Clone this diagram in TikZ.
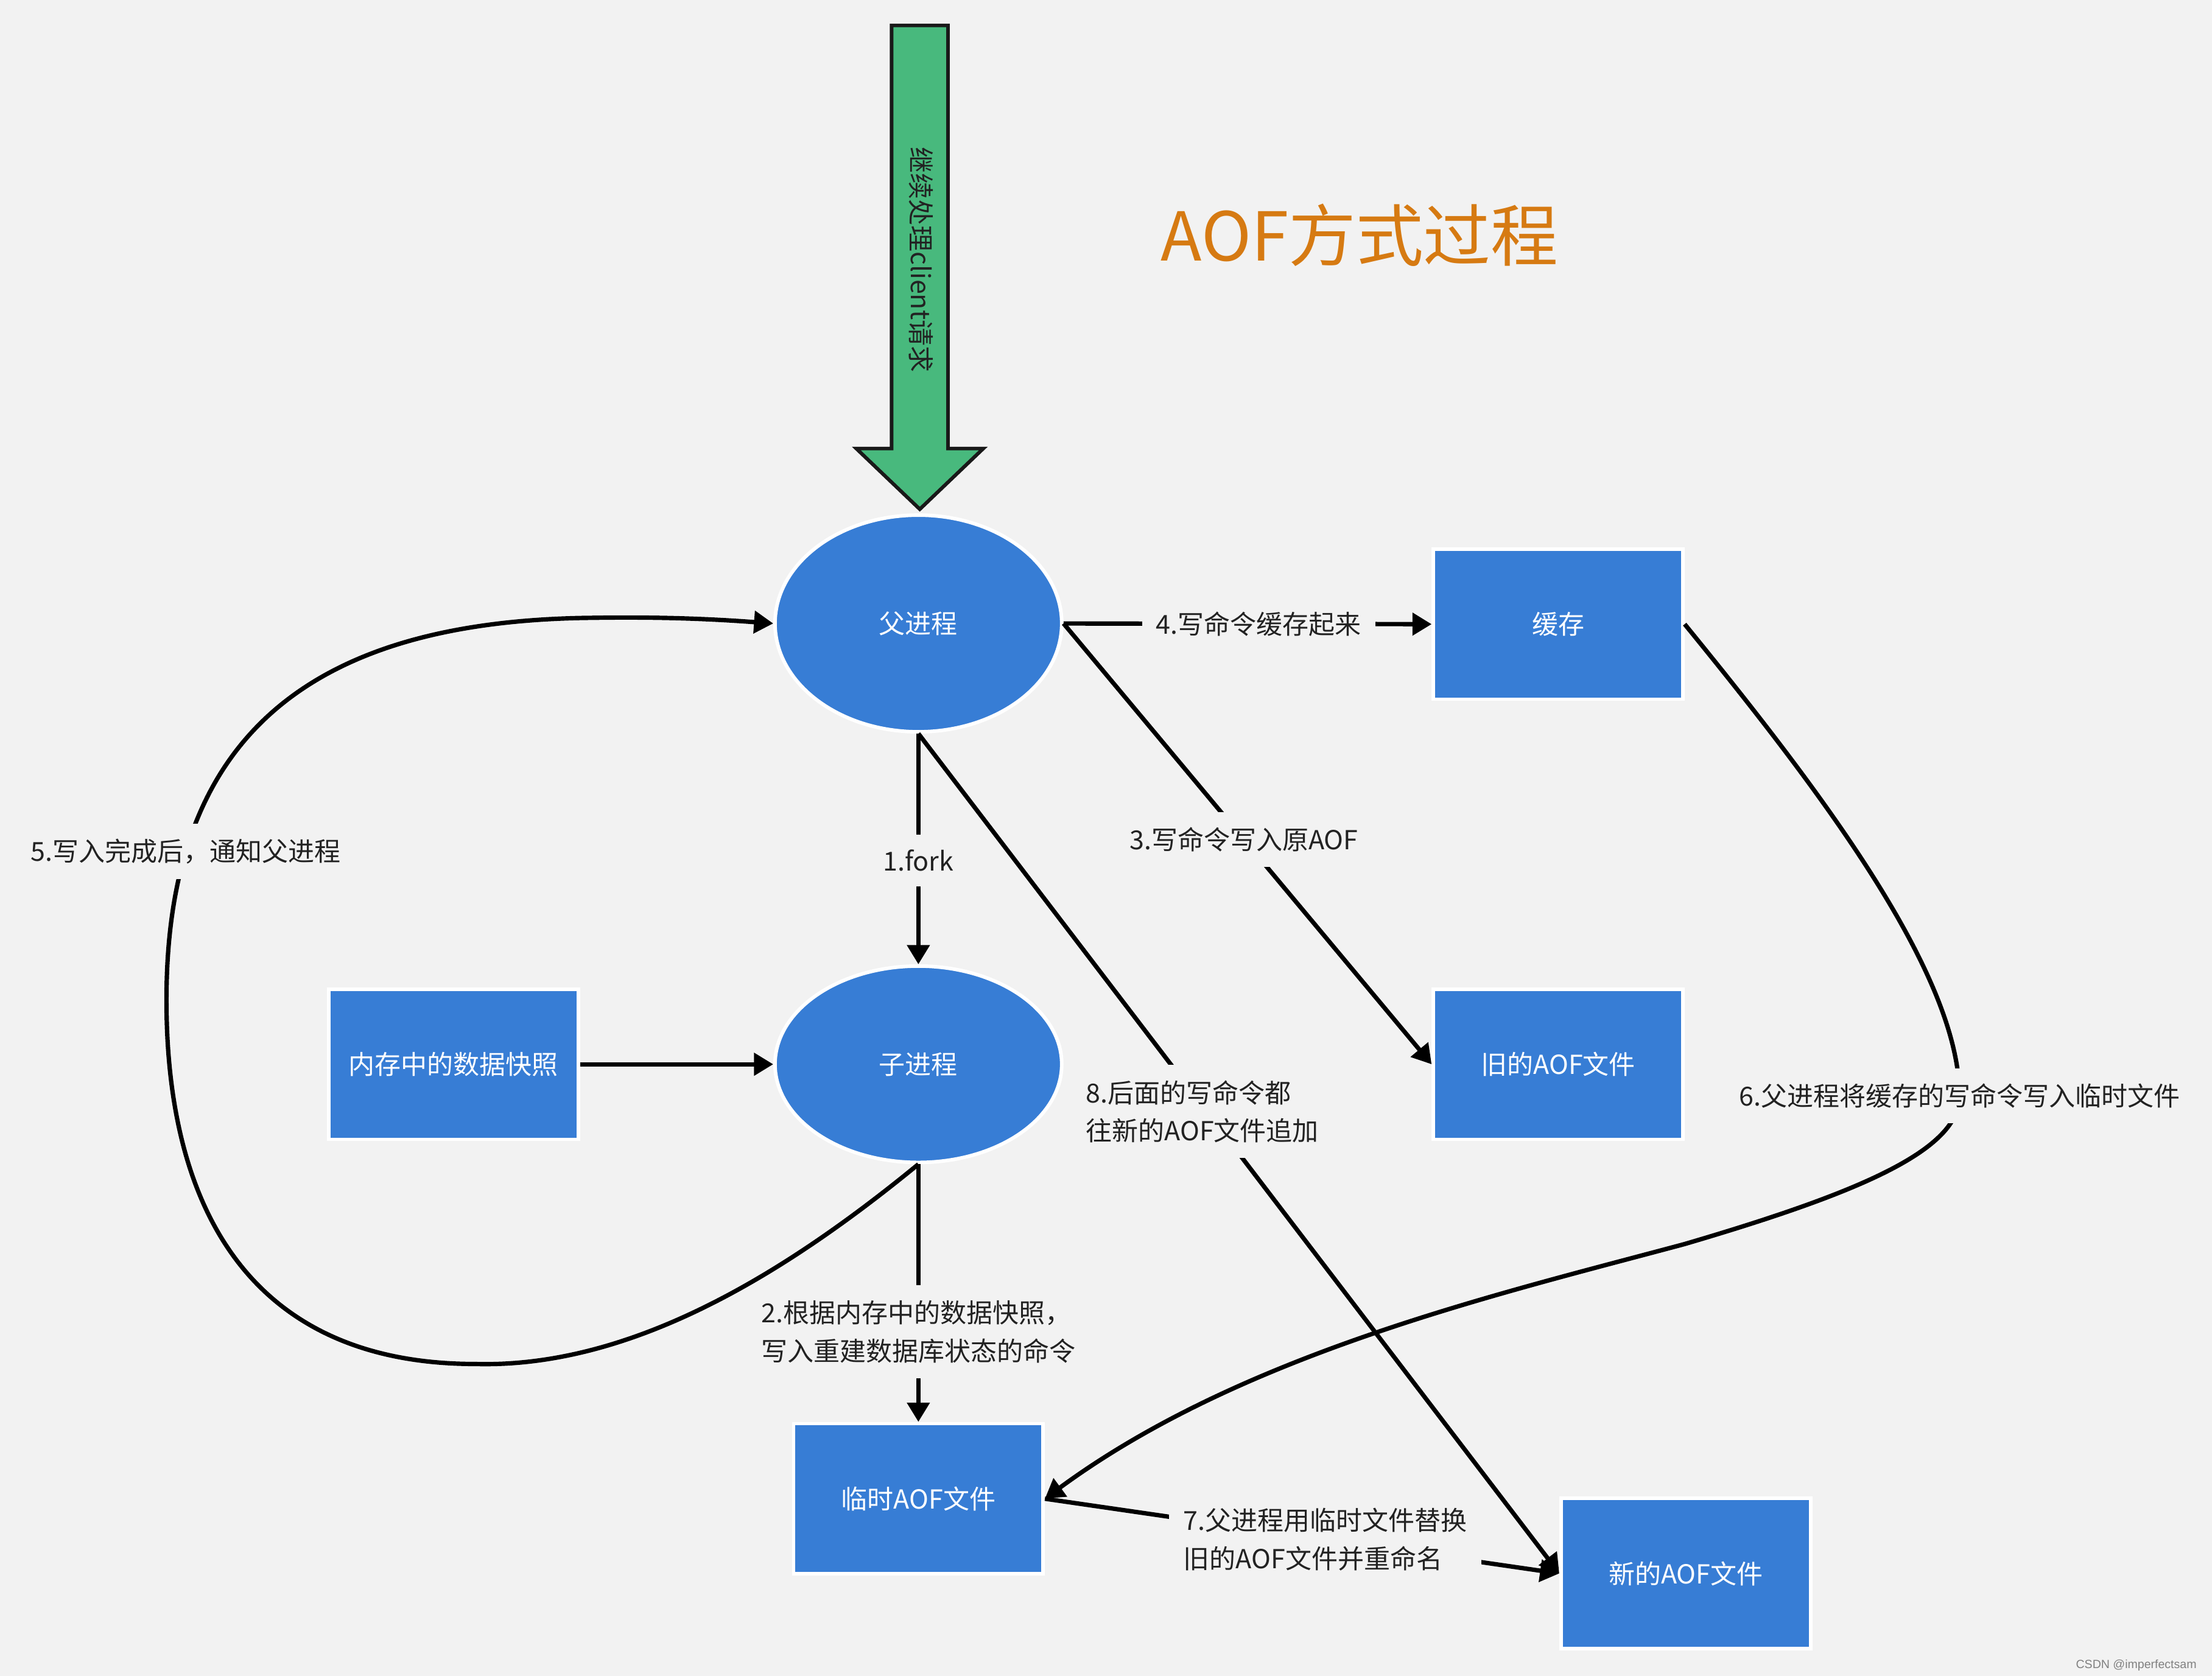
\documentclass[tikz,border=0pt]{standalone}
\usepackage{fontspec}
\setmainfont{Noto Sans CJK SC}
\newfontfamily\markfont{Liberation Sans}
\usetikzlibrary{arrows.meta,shapes.geometric}
\definecolor{bgGray}{RGB}{242,242,242}
\definecolor{procBlue}{RGB}{55,125,213}
\definecolor{titleOrange}{RGB}{214,122,18}
\definecolor{pipeGreen}{RGB}{72,185,125}
\definecolor{inkText}{RGB}{34,34,34}
\newcommand{\lblsize}{\fontsize{13.2}{19.2}\selectfont}

\begin{document}
\begin{tikzpicture}[x=0.025cm,y=-0.025cm,
  procnode/.style={ellipse,fill=procBlue,draw=white,line width=1.8pt,text=white,font=\lblsize,minimum width=5.08cm,inner sep=0pt},
  filebox/.style={rectangle,fill=procBlue,draw=white,line width=1.8pt,text=white,font=\lblsize,minimum width=4.42cm,minimum height=2.66cm,inner sep=0pt},
  steplabel/.style={fill=bgGray,text=inkText,font=\lblsize,inner xsep=0.25cm,inner ysep=0.27cm,align=left},
  flow/.style={line width=2.2pt,-{Triangle[width=0.39cm,length=0.34cm]}}]
  \fill[bgGray] (0,0) rectangle (1568,1188);
  \useasboundingbox (0,0) rectangle (1568,1188);
  % big arrow on top
  \draw[fill=pipeGreen,draw=black!90,line width=1.8pt] (632,18) -- (672,18) -- (672,318) -- (697,318) -- (652,361) -- (607,318) -- (632,318) -- cycle;
  \node[rotate=-90,text=inkText,font=\lblsize] (pipetext) at (653,184) {继续处理client请求};
  \node[anchor=base west,text=titleOrange,font=\fontsize{34}{40}\selectfont] (title) at (818,185) {AOF方式过程};
  % processes and files
  \node[procnode,minimum height=3.84cm] (parent) at (651,442) {父进程};
  \node[procnode,minimum height=3.48cm] (child) at (651,754.5) {子进程};
  \node[filebox] (cache) at (1104.5,442.5) {缓存};
  \node[filebox] (oldaof) at (1104.5,754.5) {旧的AOF文件};
  \node[filebox] (snapshot) at (321.5,754.5) {内存中的数据快照};
  \node[filebox] (tmpaof) at (651,1062.5) {临时AOF文件};
  \node[filebox] (newaof) at (1195,1115.5) {新的AOF文件};
  % steps
  \draw[flow] (parent.south) -- node[steplabel,pos=0.55] (lfork) {1.fork} (child.north);
  \draw[flow] (child.south) -- node[steplabel,pos=0.65] (lsnap) {2.根据内存中的数据快照，\\写入重建数据库状态的命令} (tmpaof.north);
  \draw[flow] (parent.east) -- node[steplabel,pos=0.49] (lold) {3.写命令写入原AOF} (oldaof.west);
  \draw[flow] (parent.east) -- node[steplabel,pos=0.53] (lcache) {4.写命令缓存起来} (cache.west);
  \draw[flow] (snapshot.east) -- (child.west);
  \draw[flow] (child.south) .. controls (560,900) and (450,970) .. (337,967)
    .. controls (180,967) and (118,860) .. (118,709)
    .. controls (118,540) and (200,440) .. (420,438) node[steplabel,pos=0.23] (lnotify) {5.写入完成后，通知父进程}
    .. controls (480,437) and (520,440) .. (parent.west);
  \draw[flow] (cache.east) .. controls (1290,560) and (1389,690) .. (1389,777) node[steplabel] (lreplay) {6.父进程将缓存的写命令写入临时文件}
    .. controls (1389,815) and (1320,845) .. (1194,882)
    .. controls (1060,918) and (880,960) .. (tmpaof.east);
  \draw[flow] (tmpaof.east) -- node[steplabel,pos=0.545] (lrename) {7.父进程用临时文件替换\\旧的AOF文件并重命名} (newaof.west);
  \draw[flow] (parent.south) -- node[steplabel,pos=0.45,xshift=-0.08cm] (lappend) {8.后面的写命令都\\往新的AOF文件追加} (newaof.west);
  \node[anchor=base east,text=black!50,font=\markfont\fontsize{6}{7}\selectfont] (mark) at (1562,1183) {CSDN @imperfectsam};
\end{tikzpicture}
\end{document}
